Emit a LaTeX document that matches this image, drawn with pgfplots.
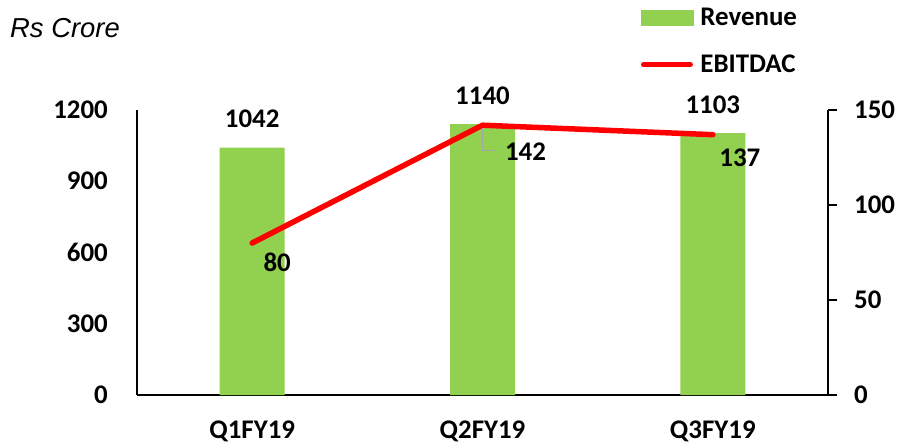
\documentclass[border=0pt]{standalone}
\usepackage{fontspec}
\setmainfont{Carlito}
\newfontfamily\arialfont{Liberation Sans}
\usepackage{pgfplots}
\pgfplotsset{compat=1.18}
\definecolor{barG}{HTML}{92D050}
\definecolor{lineR}{HTML}{FF0000}
\definecolor{leadG}{HTML}{A6A6A6}
\newcommand\lbl{\fontsize{27}{32}\selectfont\bfseries}

\begin{document}
\begin{tikzpicture}
\useasboundingbox (-137bp,-49bp) rectangle (767bp,395bp);

% Revenue bars, left axis
\begin{axis}[
  scale only axis, width=691bp, height=285bp,
  xmin=-0.5, xmax=2.5, ymin=0, ymax=1200,
  axis x line*=bottom, axis y line*=left,
  axis line style={line width=1.2bp, black},
  xtick={0,1,2}, xticklabels={Q1FY19,Q2FY19,Q3FY19},
  ytick={0,300,600,900,1200},
  major tick length=0pt,
  /pgf/number format/assume math mode=true,
  /pgf/number format/1000 sep={},
  tick label style={font=\lbl},
  xticklabel style={anchor=north, inner sep=0pt, yshift=-26bp},
  yticklabel style={anchor=east, inner sep=0pt, xshift=-29bp},
  ybar, bar width=65bp,
  nodes near coords,
  nodes near coords style={font=\lbl, anchor=center, inner sep=0pt, yshift=28.5bp},
  clip=false,
]
\addplot[fill=barG, draw=none] coordinates {(0,1042) (1,1140) (2,1103)};
\end{axis}

% EBITDAC line, right axis
\begin{axis}[
  scale only axis, width=691bp, height=285bp,
  xmin=-0.5, xmax=2.5, ymin=0, ymax=150,
  axis x line=none, axis y line*=right,
  axis line style={line width=1.2bp, black},
  ytick={0,50,100,150},
  tick align=outside, major tick length=9bp,
  major tick style={line width=1.2bp, black},
  /pgf/number format/assume math mode=true,
  tick label style={font=\lbl},
  yticklabel style={anchor=west, inner sep=0pt, xshift=17bp},
  clip=false,
  legend style={draw=none, fill=none, inner sep=0pt, font=\lbl,
    at={(axis description cs:0.729,1.358)}, anchor=north west,
    row sep=28bp, nodes={inner sep=0pt},
    /tikz/every odd column/.append style={column sep=7bp}},
  legend cell align=left,
]
\addlegendimage{legend image code/.code={\fill[barG] (0bp,-7.5bp) rectangle (52bp,7.5bp);}}
\addlegendentry{Revenue}
\addplot[lineR, line width=5.5bp, line cap=round, line join=round,
  legend image code/.code={\draw[lineR, line width=5.5bp, line cap=round] (2.5bp,0bp) -- (49bp,0bp);},
  nodes near coords,
  visualization depends on={\thisrow{dx}\as\dx},
  visualization depends on={\thisrow{dy}\as\dy},
  nodes near coords style={font=\lbl, text=black, anchor=center, inner sep=0pt,
    xshift=\dx bp, yshift=\dy bp},
] table[x=x, y=y, meta=y] {
x y dx dy
0 80 25 -19
1 142 43 -26
2 137 27 -23
};
\addlegendentry{EBITDAC}
\draw[leadG, line width=1bp] (axis cs:1,142) ++(0bp,-3bp) -- ++(0bp,-22bp) -- ++(13bp,0bp);
\end{axis}

\node[anchor=west, inner sep=0pt] at (-127bp,367bp)
  {\arialfont\itshape\fontsize{27.5}{32}\selectfont Rs Crore};
\end{tikzpicture}
\end{document}
